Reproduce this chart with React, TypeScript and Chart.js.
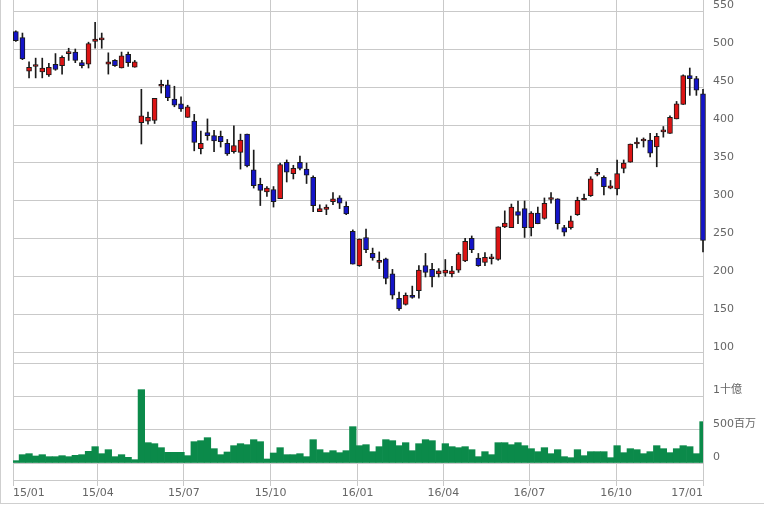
import React, { useEffect, useRef } from 'react';
import { Chart, registerables } from 'chart.js';

Chart.register(...registerables);

// Weekly candles (week start dates)
const weeks = [
  '2015-01-04', '2015-01-11', '2015-01-18', '2015-01-25', '2015-02-01', '2015-02-08', '2015-02-15', '2015-02-22',
  '2015-03-01', '2015-03-08', '2015-03-15', '2015-03-22', '2015-03-29', '2015-04-05', '2015-04-12', '2015-04-19',
  '2015-04-26', '2015-05-03', '2015-05-10', '2015-05-17', '2015-05-24', '2015-05-31', '2015-06-07', '2015-06-14',
  '2015-06-21', '2015-06-28', '2015-07-05', '2015-07-12', '2015-07-19', '2015-07-26', '2015-08-02', '2015-08-09',
  '2015-08-16', '2015-08-23', '2015-08-30', '2015-09-06', '2015-09-13', '2015-09-20', '2015-09-27', '2015-10-04',
  '2015-10-11', '2015-10-18', '2015-10-25', '2015-11-01', '2015-11-08', '2015-11-15', '2015-11-22', '2015-11-29',
  '2015-12-06', '2015-12-13', '2015-12-20', '2015-12-27',
  '2016-01-03', '2016-01-10', '2016-01-17', '2016-01-24', '2016-01-31', '2016-02-07', '2016-02-14', '2016-02-21',
  '2016-02-28', '2016-03-06', '2016-03-13', '2016-03-20', '2016-03-27', '2016-04-03', '2016-04-10', '2016-04-17',
  '2016-04-24', '2016-05-01', '2016-05-08', '2016-05-15', '2016-05-22', '2016-05-29', '2016-06-05', '2016-06-12',
  '2016-06-19', '2016-06-26', '2016-07-03', '2016-07-10', '2016-07-17', '2016-07-24', '2016-07-31', '2016-08-07',
  '2016-08-14', '2016-08-21', '2016-08-28', '2016-09-04', '2016-09-11', '2016-09-18', '2016-09-25', '2016-10-02',
  '2016-10-09', '2016-10-16', '2016-10-23', '2016-10-30', '2016-11-06', '2016-11-13', '2016-11-20', '2016-11-27',
  '2016-12-04', '2016-12-11', '2016-12-18', '2016-12-25',
  '2017-01-01',
];

const open = [
  523, 515, 471, 477, 470, 466, 480, 478, 494, 496,
  482, 480, 510, 512, 480, 485, 475, 493, 476, 403,
  405, 406, 451, 453, 434, 428, 410, 405, 369, 390,
  386, 385, 376, 365, 364, 388, 341, 322, 312, 315,
  303, 351, 336, 351, 342, 331, 286, 289, 299, 304,
  293, 260, 215, 252, 231, 219, 224, 204, 172, 164,
  176, 182, 215, 210, 204, 205, 204, 209, 221, 251,
  225, 219, 224, 223, 266, 265, 286, 290, 265, 284,
  277, 302, 303, 265, 265, 282, 301, 307, 335, 331,
  317, 316, 343, 351, 375, 379, 380, 371, 391, 389,
  408, 427, 465, 461, 441,
];

const high = [
  524, 521, 483, 488, 488, 481, 494, 491, 501, 500,
  485, 509, 535, 521, 495, 486, 496, 496, 485, 447,
  417, 435, 459, 459, 451, 437, 426, 414, 392, 408,
  393, 392, 381, 399, 388, 388, 367, 330, 319, 319,
  350, 354, 347, 359, 350, 333, 295, 295, 311, 307,
  299, 262, 250, 263, 238, 233, 225, 210, 180, 179,
  188, 215, 231, 218, 211, 223, 214, 232, 251, 254,
  231, 232, 230, 266, 287, 296, 300, 300, 286, 292,
  304, 311, 303, 268, 280, 305, 309, 332, 343, 333,
  327, 354, 354, 375, 383, 383, 389, 389, 398, 412,
  431, 466, 475, 464, 447,
];

const low = [
  510, 486, 462, 462, 462, 464, 472, 467, 485, 482,
  475, 475, 501, 501, 467, 477, 475, 477, 476, 375,
  401, 402, 442, 432, 424, 418, 410, 366, 362, 380,
  365, 371, 360, 363, 342, 345, 317, 294, 306, 292,
  303, 325, 329, 341, 323, 286, 286, 282, 295, 290,
  282, 217, 214, 232, 222, 211, 191, 171, 156, 163,
  172, 172, 200, 187, 200, 201, 200, 206, 220, 232,
  214, 215, 217, 222, 265, 265, 270, 252, 254, 270,
  276, 297, 263, 254, 263, 281, 301, 306, 333, 308,
  316, 308, 337, 351, 370, 371, 358, 345, 384, 389,
  408, 427, 439, 439, 233,
];

const close = [
  511, 487, 476, 478, 475, 476, 473, 489, 495, 485,
  478, 507, 513, 513, 483, 478, 491, 482, 483, 412,
  410, 435, 452, 436, 426, 421, 424, 377, 376, 386,
  379, 378, 362, 373, 380, 346, 320, 314, 317, 299,
  348, 338, 343, 343, 334, 294, 290, 292, 303, 297,
  283, 217, 250, 236, 225, 222, 198, 176, 158, 176,
  173, 209, 206, 200, 208, 209, 208, 230, 247, 236,
  215, 226, 225, 266, 271, 292, 281, 265, 284, 270,
  297, 303, 270, 259, 274, 301, 302, 329, 336, 319,
  320, 336, 350, 375, 376, 380, 363, 385, 392, 410,
  428, 465, 461, 446, 248,
];

// Volume in millions of shares
const volume = [
  35, 125, 140, 105, 125, 95, 95, 110, 95, 115,
  125, 175, 245, 140, 200, 95, 125, 85, 50, 1100,
  305, 290, 230, 160, 160, 160, 110, 320, 335, 380,
  215, 125, 165, 260, 290, 275, 350, 320, 60, 150,
  230, 125, 125, 140, 95, 350, 200, 155, 185, 155,
  185, 545, 260, 275, 170, 245, 350, 335, 260, 305,
  185, 290, 350, 335, 185, 290, 245, 230, 245, 200,
  95, 170, 125, 305, 305, 275, 305, 260, 215, 170,
  230, 140, 200, 95, 80, 200, 110, 170, 170, 170,
  80, 260, 155, 215, 200, 140, 170, 260, 215, 155,
  215, 260, 245, 140, 620,
];

const monthTickDates = [
  '2015-01-01', '2015-04-01', '2015-07-01', '2015-10-01', '2016-01-01',
  '2016-04-01', '2016-07-01', '2016-10-01', '2017-01-01',
];
const monthTickLabels = ['15/01', '15/04', '15/07', '15/10', '16/01', '16/04', '16/07', '16/10', '17/01'];

const priceTicks = [100, 150, 200, 250, 300, 350, 400, 450, 500, 550];
const volumeTicks = [0, 500, 1000, 1500];
const volumeTickLabels = ['0', '500百万', '1十億', ''];

const ORIGIN = Date.parse('2015-01-01');
const dayOf = (d: string) => (Date.parse(d) - ORIGIN) / 86400000;

const GRID = '#c9c9c9';
const LABEL = '#666666';
const FONT = { family: '"DejaVu Sans", "Noto Sans CJK JP", sans-serif', size: 11 };

export default function App() {
  const ref = useRef<HTMLCanvasElement | null>(null);

  useEffect(() => {
    if (!ref.current) return;
    const xs = weeks.map(dayOf);
    const up = close.map((c, i) => c >= open[i]);

    const chart = new Chart(ref.current, {
      type: 'bar',
      data: {
        datasets: [
          {
            label: 'body',
            data: xs.map((x, i) => ({ x, y: [open[i], close[i]] })) as any,
            yAxisID: 'y',
            backgroundColor: up.map((u) => (u ? '#dc1414' : '#1414c8')),
            borderColor: '#1a1a1a',
            borderWidth: 1,
            borderSkipped: false,
            barThickness: 5,
            minBarLength: 2,
            grouped: false,
            order: 0,
            clip: false as any,
          },
          {
            label: 'wick',
            data: xs.map((x, i) => ({ x, y: [low[i], high[i]] })) as any,
            yAxisID: 'y',
            backgroundColor: '#1a1a1a',
            borderWidth: 0,
            barThickness: 1,
            grouped: false,
            order: 1,
            clip: false as any,
          },
          {
            label: 'volume',
            data: xs.map((x, i) => ({ x, y: volume[i] })) as any,
            yAxisID: 'yv',
            backgroundColor: '#0b8a4a',
            borderWidth: 0,
            barThickness: 6.6,
            grouped: false,
            order: 2,
          },
        ],
      },
      options: {
        animation: false,
        responsive: false,
        maintainAspectRatio: false,
        layout: { padding: { left: 13, top: 0, right: 0, bottom: 0 } },
        plugins: {
          legend: { display: false },
          tooltip: { enabled: false },
        },
        scales: {
          x: {
            type: 'linear',
            min: 0,
            max: dayOf('2017-01-01'),
            offset: false,
            grid: { color: GRID, offset: false, tickLength: 6, drawTicks: true },
            border: { color: GRID },
            ticks: {
              align: 'inner',
              autoSkip: false,
              maxRotation: 0,
              padding: 1,
              color: LABEL,
              font: FONT,
              callback: (_v: any, i: number) => monthTickLabels[i] ?? '',
            },
            afterBuildTicks: (s: any) => {
              s.ticks = monthTickDates.map((d) => ({ value: dayOf(d) }));
            },
            afterFit: (s: any) => {
              s.height = 27;
              s.paddingLeft = 0;
              s.paddingRight = 0;
            },
          } as any,
          y: {
            type: 'linear',
            position: 'right',
            stack: 'panes',
            stackWeight: 363,
            min: 86.8,
            max: 564.5,
            grid: { color: GRID, drawTicks: false },
            border: { color: GRID },
            ticks: { padding: 10, labelOffset: -6, color: LABEL, font: FONT },
            afterBuildTicks: (s: any) => {
              s.ticks = priceTicks.map((v) => ({ value: v }));
            },
            afterFit: (s: any) => {
              s.width = 61;
              s.paddingTop = 0;
              s.paddingBottom = 0;
            },
          } as any,
          yv: {
            type: 'linear',
            position: 'right',
            stack: 'panes',
            stackWeight: 117,
            min: -255,
            max: 1500,
            grid: { color: GRID, drawTicks: false },
            border: { color: GRID },
            ticks: {
              padding: 10,
              labelOffset: -6,
              color: LABEL,
              font: FONT,
              callback: (_v: any, i: number) => volumeTickLabels[i] ?? '',
            },
            afterBuildTicks: (s: any) => {
              s.ticks = volumeTicks.map((v) => ({ value: v }));
            },
            afterFit: (s: any) => {
              s.width = 61;
              s.paddingTop = 0;
              s.paddingBottom = 0;
            },
          } as any,
        },
      },
    });
    return () => chart.destroy();
  }, []);

  return (
    <div style={{ position: 'absolute', left: 0, top: 0, width: 764, height: 507, background: '#ffffff' }}>
      <div
        style={{
          position: 'absolute',
          left: 0,
          top: 0,
          width: 764,
          height: 504,
          boxSizing: 'border-box',
          borderLeft: '1px solid #cfcfcf',
          borderBottom: '1px solid #cfcfcf',
        }}
      />
      <canvas ref={ref} width={764} height={507} style={{ position: 'absolute', left: 0, top: 0 }} />
    </div>
  );
}
